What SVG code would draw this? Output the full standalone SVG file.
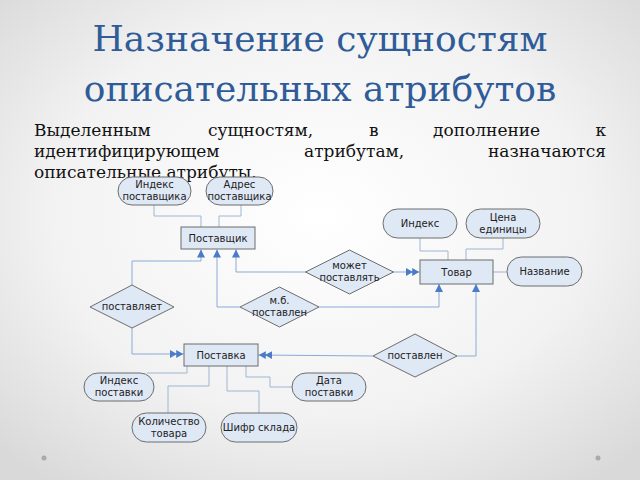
<svg xmlns="http://www.w3.org/2000/svg" width="640" height="480" viewBox="0 0 640 480">
<defs>
<radialGradient id="bg" cx="50%" cy="45%" r="70%">
<stop offset="0" stop-color="#ffffff"/><stop offset="0.6" stop-color="#f2f2f2"/><stop offset="1" stop-color="#d9d9d9"/>
</radialGradient>
<marker id="a1" viewBox="0 0 10 10" refX="10" refY="5" markerWidth="8" markerHeight="8" orient="auto" markerUnits="userSpaceOnUse"><path d="M0,0 L10,5 L0,10 z" fill="#4a7cc7"/></marker>
<marker id="a2" viewBox="0 0 18 10" refX="18" refY="5" markerWidth="14" markerHeight="8" orient="auto" markerUnits="userSpaceOnUse"><path d="M0,0 L9,5 L0,10 z M8,0 L17,5 L8,10 z" fill="#4a7cc7"/></marker>
<style>
.t{font-family:"DejaVu Serif","Liberation Serif",serif;}
.title{font-size:36px;fill:#2f5c98;text-anchor:middle;}
.body{font-size:17px;fill:#111;}
.n{fill:#dfe8f5;stroke:#6d6d6d;stroke-width:1;}
.l{font-family:"DejaVu Sans","Liberation Sans",sans-serif;font-size:10px;fill:#222;text-anchor:middle;}
.c{fill:none;stroke:#9fb6d2;stroke-width:1;}
.r{fill:none;stroke:#8aaad6;stroke-width:1;}
</style>
</defs>
<rect width="640" height="480" fill="url(#bg)"/>
<text class="t title" x="320" y="51">Назначение сущностям</text>
<text class="t title" x="320" y="101">описательных атрибутов</text>
<g class="t body">
<text x="34" y="136">Выделенным</text><text x="208" y="136">сущностям,</text><text x="369" y="136">в</text><text x="433" y="136">дополнение</text><text x="606" y="136" text-anchor="end">к</text>
<text x="34" y="157">идентифицирующем</text><text x="304" y="157">атрибутам,</text><text x="606" y="157" text-anchor="end">назначаются</text>
<text x="34" y="178">описательные атрибуты.</text>
</g>
<circle cx="44" cy="458" r="2.5" fill="#aaa"/><circle cx="598" cy="458" r="2.5" fill="#aaa"/>
<g id="connectors">
<polyline class="c" points="154,205 154,216 201,216 201,227"/>
<polyline class="c" points="241,205 241,216 219,216 219,227"/>
<polyline class="c" points="420,238 420,251 448,251 448,260"/>
<polyline class="c" points="503,238 503,249 466,249 466,260"/>
<polyline class="c" points="493,272 507,272"/>
<polyline class="c" points="187,366 187,373 147,373"/>
<polyline class="c" points="209,366 209,386 168,386 168,413"/>
<polyline class="c" points="227,366 227,391 259,391 259,413"/>
<polyline class="c" points="246,366 246,377 270,377 270,387 292,387"/>
<polyline class="r" points="132,285 132,261 201,261 201,249.5" marker-end="url(#a1)"/>
<polyline class="r" points="132,328 132,354 184,354" marker-end="url(#a2)"/>
<polyline class="r" points="240,307 217,307 217,249.5" marker-end="url(#a1)"/>
<polyline class="r" points="319,307 439,307 439,284" marker-end="url(#a1)"/>
<polyline class="r" points="306,272 236,272 236,249.5" marker-end="url(#a1)"/>
<polyline class="r" points="393,272 420,272" marker-end="url(#a2)"/>
<polyline class="r" points="373,356 258,355" marker-end="url(#a2)"/>
<polyline class="r" points="457,356 476,356 476,284" marker-end="url(#a1)"/>
</g>
<g id="postavshik"><rect class="n" x="181" y="227" width="74" height="22"/><text class="l" x="218" y="242">Поставщик</text></g>
<g id="tovar"><rect class="n" x="420" y="260" width="73" height="24"/><text class="l" x="456.5" y="276">Товар</text></g>
<g id="postavka"><rect class="n" x="184" y="344" width="74" height="22"/><text class="l" x="221" y="359">Поставка</text></g>
<g id="idx-postavshika"><rect class="n" x="118" y="177" width="73" height="28" rx="14"/><text class="l" x="154.5" y="188">Индекс</text><text class="l" x="154.5" y="200">поставщика</text></g>
<g id="adres"><rect class="n" x="206" y="177" width="67" height="28" rx="14"/><text class="l" x="239.5" y="188">Адрес</text><text class="l" x="239.5" y="200">поставщика</text></g>
<g id="idx-tovar"><rect class="n" x="383" y="209" width="74" height="29" rx="14.5"/><text class="l" x="420" y="227">Индекс</text></g>
<g id="cena"><rect class="n" x="466" y="209" width="74" height="29" rx="14.5"/><text class="l" x="503" y="221">Цена</text><text class="l" x="503" y="233">единицы</text></g>
<g id="nazvanie"><rect class="n" x="507" y="257" width="75" height="29" rx="14.5"/><text class="l" x="544.5" y="275">Название</text></g>
<g id="idx-postavki"><rect class="n" x="84" y="373" width="70" height="28" rx="14"/><text class="l" x="119" y="384">Индекс</text><text class="l" x="119" y="396">поставки</text></g>
<g id="data"><rect class="n" x="292" y="373" width="74" height="28" rx="14"/><text class="l" x="329" y="384">Дата</text><text class="l" x="329" y="396">поставки</text></g>
<g id="kolvo"><rect class="n" x="132" y="413" width="74" height="29" rx="14.5"/><text class="l" x="169" y="425">Количество</text><text class="l" x="169" y="437">товара</text></g>
<g id="shifr"><rect class="n" x="221" y="413" width="76" height="29" rx="14.5"/><text class="l" x="259" y="431">Шифр склада</text></g>
<g id="mozhet"><polygon class="n" points="349.5,250 393.5,272 349.5,294 305.5,272"/><text class="l" x="349.5" y="269">может</text><text class="l" x="349.5" y="281">поставлять</text></g>
<g id="postavlyaet"><polygon class="n" points="132,285 174,307 132,328 90,307"/><text class="l" x="132" y="310">поставляет</text></g>
<g id="mb"><polygon class="n" points="279.5,287 319,307 279.5,327 240,307"/><text class="l" x="279.5" y="304">м.б.</text><text class="l" x="279.5" y="316">поставлен</text></g>
<g id="postavlen"><polygon class="n" points="415,334 457,356 415,377 373,356"/><text class="l" x="415" y="359">поставлен</text></g>
</svg>
